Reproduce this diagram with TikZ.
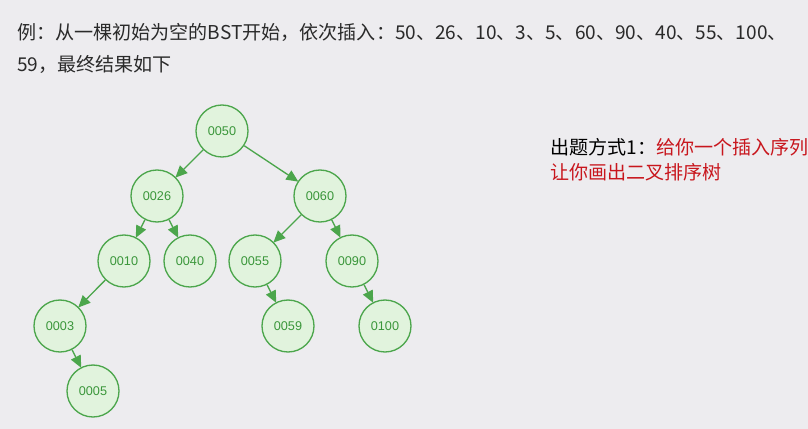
\documentclass[tikz,border=0pt]{standalone}
\usepackage{fontspec}
\usepackage{tikz}
\usetikzlibrary{arrows.meta}
\setmainfont{Liberation Sans}
\newfontfamily\cjk{Noto Sans CJK SC}
\definecolor{bgpage}{HTML}{EDECEF}
\definecolor{treeline}{HTML}{4CA64C}
\definecolor{treefill}{HTML}{E1F3DD}
\definecolor{treetext}{HTML}{3A963A}
\definecolor{redtext}{HTML}{C8161D}
\definecolor{greytext}{HTML}{2A2A2A}

\begin{document}
\begin{tikzpicture}[x=0.75pt,y=-0.75pt,
  bst/.style={circle,draw=treeline,fill=treefill,line width=1pt,minimum size=39pt,inner sep=0pt,
    text=treetext,font=\fontsize{9.5pt}{9.5pt}\selectfont},
  edge/.style={draw=treeline,line width=1pt,-{Triangle[length=9pt,width=8pt]},shorten >=-0.5pt}]
			% page
			\fill[color=bgpage] (0,0) rectangle (808,429);
			\useasboundingbox (0,0) rectangle (808,429);
			% heading
			\node[anchor=west,inner sep=0pt,text=greytext,font=\cjk\fontsize{14.3pt}{16pt}\selectfont] (head1) at (17,32)
				{例：从一棵初始为空的BST开始，依次插入：50、26、10、3、5、60、90、40、55、100、};
			\node[anchor=west,inner sep=0pt,text=greytext,font=\cjk\fontsize{14.3pt}{16pt}\selectfont] (head2) at (17,64)
				{59，最终结果如下};
			% tree nodes
			\node[bst] (n50) at (222,131) {0050};
			\node[bst] (n26) at (157,196) {0026};
			\node[bst] (n60) at (320,196) {0060};
			\node[bst] (n10) at (124,261) {0010};
			\node[bst] (n40) at (190,261) {0040};
			\node[bst] (n55) at (255,261) {0055};
			\node[bst] (n90) at (352,261) {0090};
			\node[bst] (n3) at (60,326) {0003};
			\node[bst] (n59) at (288,326) {0059};
			\node[bst] (n100) at (385,326) {0100};
			\node[bst] (n5) at (93,391) {0005};
			% edges
			\draw[edge] (n50) -- (n26);
			\draw[edge] (n50) -- (n60);
			\draw[edge] (n26) -- (n10);
			\draw[edge] (n26) -- (n40);
			\draw[edge] (n60) -- (n55);
			\draw[edge] (n60) -- (n90);
			\draw[edge] (n10) -- (n3);
			\draw[edge] (n3) -- (n5);
			\draw[edge] (n55) -- (n59);
			\draw[edge] (n90) -- (n100);
			% note
			\node[anchor=west,inner sep=0pt,font=\cjk\fontsize{14.3pt}{16pt}\selectfont] (note1) at (550,147)
				{\textcolor{black}{出题方式1：}\textcolor{redtext}{给你一个插入序列}};
			\node[anchor=west,inner sep=0pt,text=redtext,font=\cjk\fontsize{14.3pt}{16pt}\selectfont] (note2) at (550,172)
				{让你画出二叉排序树};
		\end{tikzpicture}
\end{document}
